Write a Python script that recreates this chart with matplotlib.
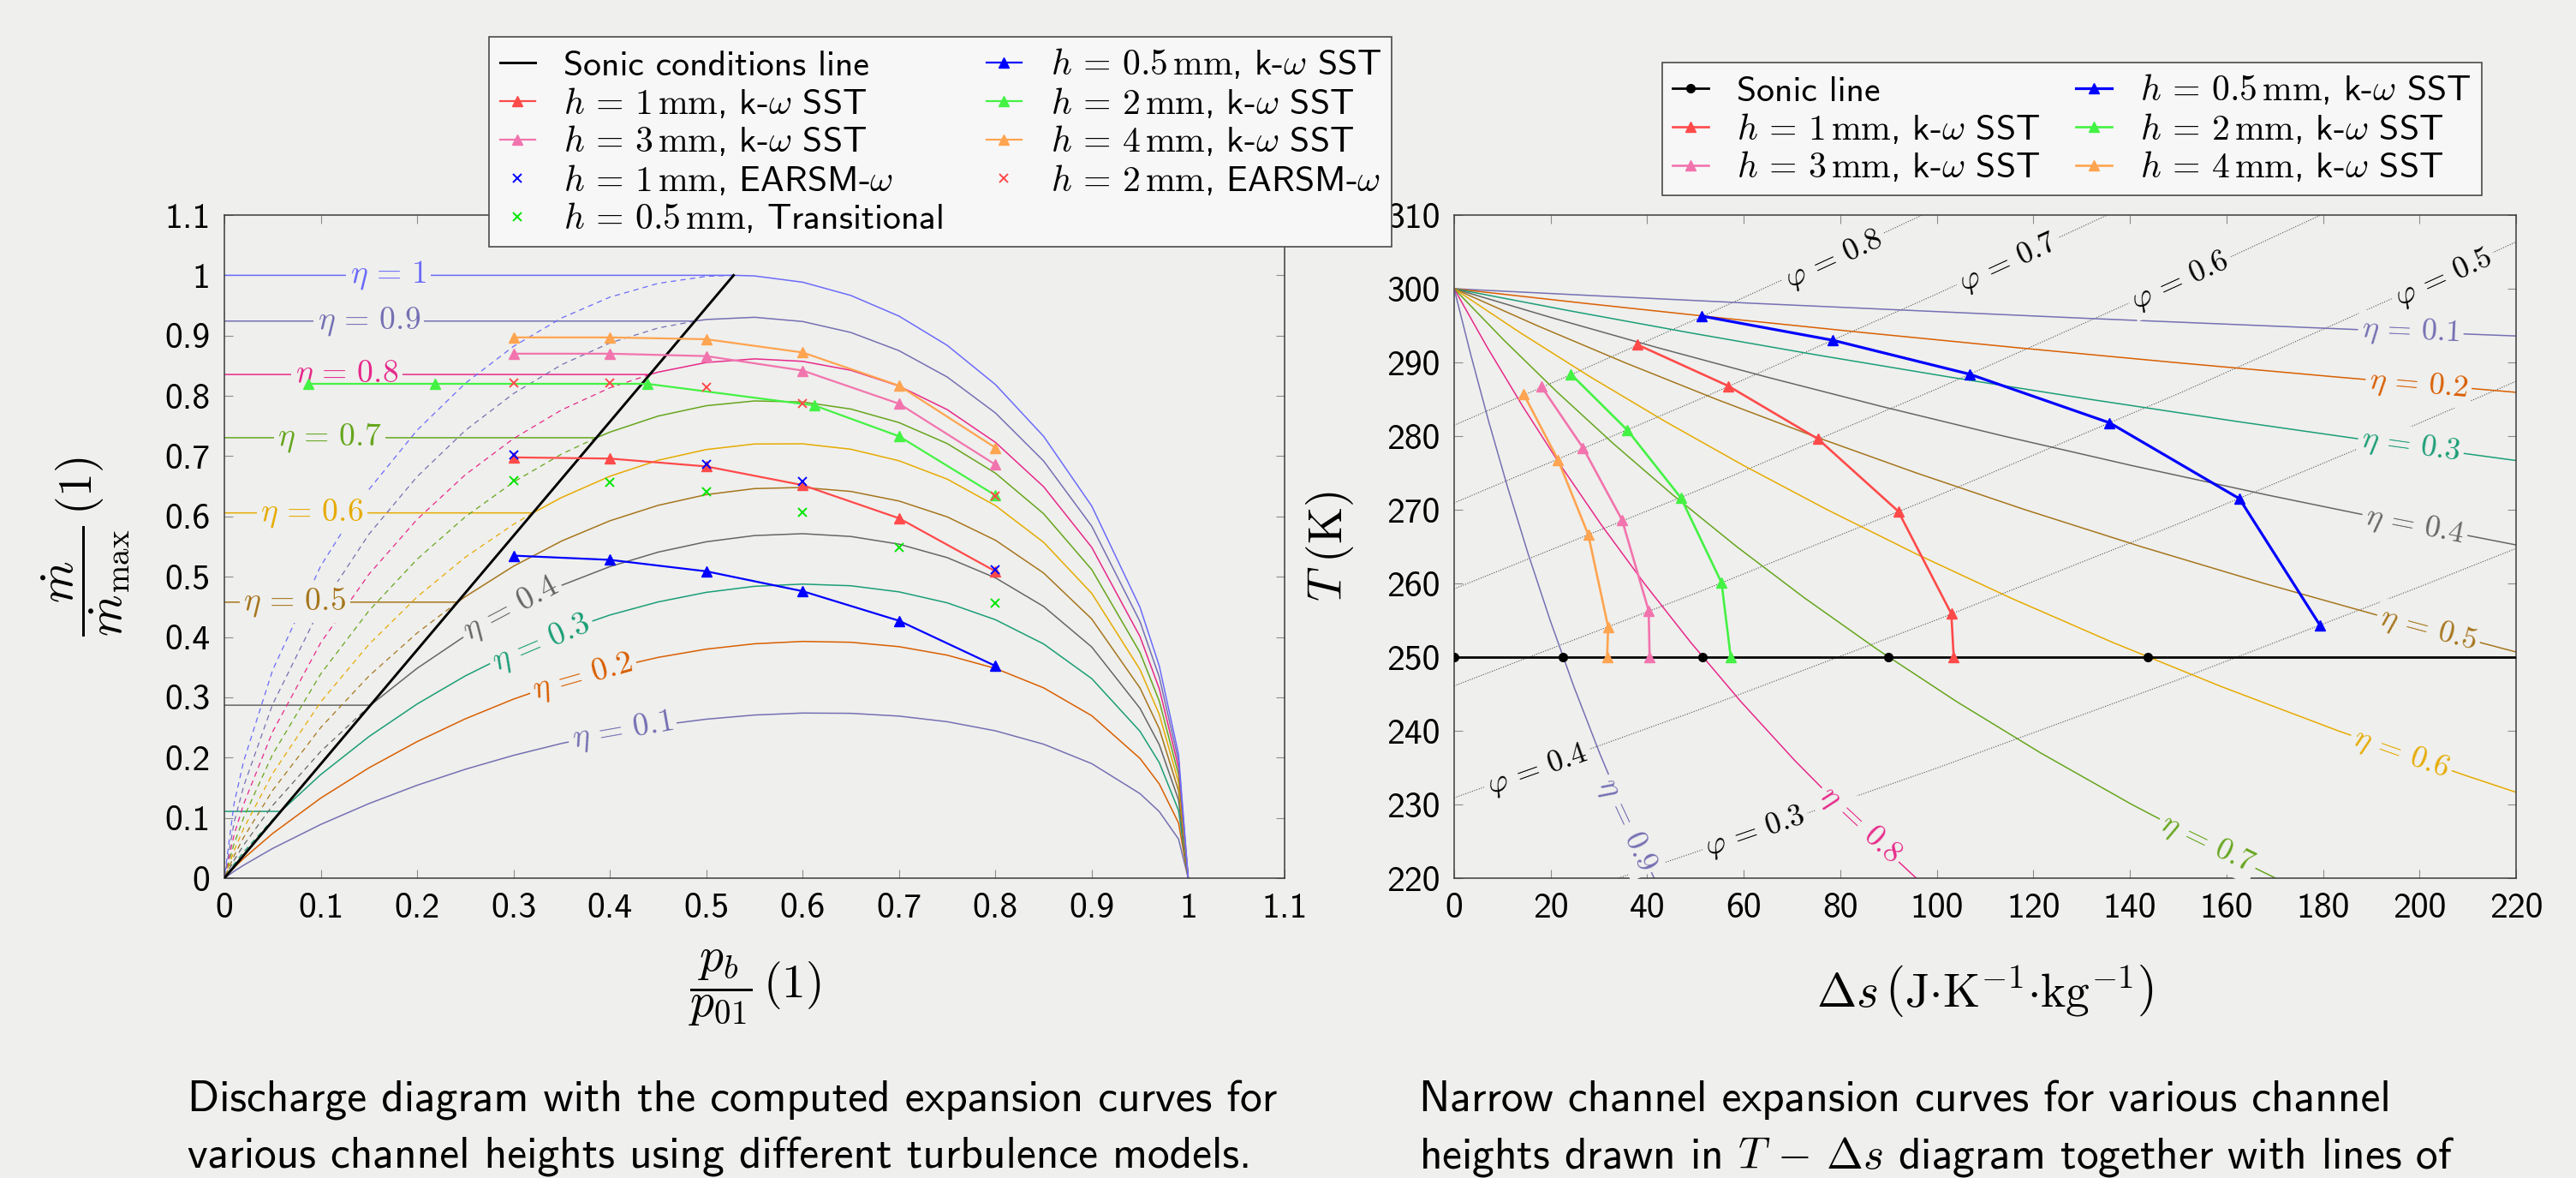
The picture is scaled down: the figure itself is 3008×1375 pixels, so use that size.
import matplotlib
matplotlib.use("Agg")
import matplotlib.pyplot as plt

plt.rcParams["font.family"] = ["cmss10", "DejaVu Sans"]
plt.rcParams["mathtext.fontset"] = "cm"
plt.rcParams["axes.unicode_minus"] = False

BG = "#efefed"

# ------------------------------------------------------------------ left chart data
pb_grid = [1.0, 0.99, 0.97, 0.95, 0.9, 0.85, 0.8, 0.75, 0.7, 0.65, 0.6, 0.55, 0.5,
           0.45, 0.4, 0.35, 0.3, 0.25, 0.2, 0.15, 0.1, 0.05, 0.02, 0.01, 0.0]
m_eta01 = [0, 0.0648, 0.1104, 0.1402, 0.1899, 0.2222, 0.2444, 0.2595, 0.2688, 0.2734, 0.2739, 0.2706, 0.2637,
           0.2535, 0.2401, 0.2235, 0.2037, 0.1806, 0.1541, 0.1237, 0.0891, 0.0492, 0.0215, 0.0113, 0]
m_eta02 = [0, 0.0916, 0.1563, 0.1986, 0.2694, 0.3157, 0.3479, 0.3699, 0.3840, 0.3913, 0.3927, 0.3888, 0.3799,
           0.3662, 0.3478, 0.3247, 0.2970, 0.2643, 0.2265, 0.1830, 0.1328, 0.0740, 0.0328, 0.0173, 0]
m_eta03 = [0, 0.1123, 0.1916, 0.2436, 0.3309, 0.3885, 0.4287, 0.4567, 0.4749, 0.4850, 0.4878, 0.4841, 0.4741,
           0.4582, 0.4365, 0.4089, 0.3753, 0.3355, 0.2889, 0.2348, 0.1718, 0.0970, 0.0435, 0.0232, 0]
m_eta04 = [0, 0.1297, 0.2214, 0.2817, 0.3833, 0.4507, 0.4982, 0.5317, 0.5540, 0.5668, 0.5714, 0.5683, 0.5580,
           0.5408, 0.5168, 0.4858, 0.4477, 0.4020, 0.3481, 0.2848, 0.2102, 0.1204, 0.0549, 0.0296, 0]
m_eta05 = [0, 0.1450, 0.2478, 0.3154, 0.4298, 0.5062, 0.5606, 0.5993, 0.6256, 0.6415, 0.6481, 0.6462, 0.6362,
           0.6184, 0.5928, 0.5593, 0.5175, 0.4670, 0.4067, 0.3353, 0.2499, 0.1454, 0.0676, 0.0369, 0]
m_eta06 = [0, 0.1589, 0.2717, 0.3460, 0.4723, 0.5571, 0.6180, 0.6619, 0.6924, 0.7115, 0.7205, 0.7202, 0.7110,
           0.6932, 0.6667, 0.6315, 0.5869, 0.5324, 0.4666, 0.3878, 0.2924, 0.1733, 0.0824, 0.0456, 0]
m_eta07 = [0, 0.1717, 0.2937, 0.3743, 0.5117, 0.6045, 0.6718, 0.7209, 0.7557, 0.7782, 0.7899, 0.7916, 0.7837,
           0.7665, 0.7399, 0.7036, 0.6571, 0.5994, 0.5291, 0.4436, 0.3388, 0.2052, 0.1003, 0.0567, 0]
m_eta08 = [0, 0.1836, 0.3143, 0.4007, 0.5486, 0.6493, 0.7229, 0.7772, 0.8163, 0.8425, 0.8573, 0.8614, 0.8554,
           0.8394, 0.8134, 0.7768, 0.7292, 0.6692, 0.5952, 0.5041, 0.3906, 0.2427, 0.1228, 0.0713, 0]
m_eta09 = [0, 0.1948, 0.3336, 0.4256, 0.5837, 0.6920, 0.7717, 0.8313, 0.8750, 0.9052, 0.9234, 0.9304, 0.9267,
           0.9126, 0.8878, 0.8518, 0.8039, 0.7427, 0.6661, 0.5706, 0.4495, 0.2881, 0.1525, 0.0918, 0]
m_eta10 = [0, 0.2054, 0.3520, 0.4493, 0.6171, 0.7329, 0.8188, 0.8838, 0.9323, 0.9666, 0.9886, 0.9990, 0.9983,
           0.9866, 0.9638, 0.9293, 0.8822, 0.8209, 0.7431, 0.6447, 0.5180, 0.3448, 0.1939, 0.1232, 0]

eta_levels = [0.1, 0.2, 0.3, 0.4, 0.5, 0.6, 0.7, 0.8, 0.9, 1.0]
eta_names = ["0.1", "0.2", "0.3", "0.4", "0.5", "0.6", "0.7", "0.8", "0.9", "1"]
eta_choke_pb = [None, 0.0019, 0.0585, 0.1516, 0.2419, 0.3202, 0.3861, 0.4415, 0.4883, 0.5283]
eta_choke_m = [None, 0.0036, 0.1108, 0.2869, 0.4578, 0.6059, 0.7306, 0.8355, 0.9241, 1.0]

sonic_pb = [0.0, 0.5283]
sonic_m = [0.0, 1.0]

exp_pb = [0.3, 0.4, 0.5, 0.6, 0.7, 0.8]
sst_h05 = [0.535, 0.528, 0.509, 0.476, 0.427, 0.352]
sst_h1 = [0.698, 0.696, 0.683, 0.652, 0.597, 0.509]
sst_h3 = [0.870, 0.870, 0.866, 0.842, 0.787, 0.686]
sst_h4 = [0.897, 0.897, 0.894, 0.872, 0.817, 0.714]
sst_h2_pb = [0.0875, 0.2186, 0.439, 0.6125, 0.7, 0.8]
sst_h2 = [0.820, 0.820, 0.820, 0.784, 0.733, 0.635]
earsm_h1_pb = [0.3, 0.5, 0.6, 0.8]
earsm_h1 = [0.702, 0.687, 0.658, 0.511]
earsm_h2_pb = [0.3, 0.4, 0.5, 0.6, 0.8]
earsm_h2 = [0.822, 0.822, 0.815, 0.788, 0.634]
trans_h05 = [0.660, 0.656, 0.641, 0.607, 0.549, 0.456]

left_ticks = [0.0, 0.1, 0.2, 0.3, 0.4, 0.5, 0.6, 0.7, 0.8, 0.9, 1.0, 1.1]
left_ticklabels = ["0", "0.1", "0.2", "0.3", "0.4", "0.5", "0.6", "0.7", "0.8", "0.9", "1", "1.1"]

# ------------------------------------------------------------------ right chart data
ds_eta01 = [0, 30.70, 62.58, 130.26, 203.85, 223.29]
T_eta01 = [300, 299, 298, 296, 294, 293.5]
ds_eta02 = [0, 27.34, 55.82, 85.54, 116.59, 149.09, 183.14, 218.92, 220.75]
T_eta02 = [300, 298, 296, 294, 292, 290, 288, 286, 285.9]
ds_eta03 = [0, 23.96, 49.01, 75.24, 102.74, 131.62, 161.99, 194.00, 222.03]
T_eta03 = [300, 297, 294, 291, 288, 285, 282, 279, 276.5]
ds_eta04 = [0, 20.57, 42.15, 64.83, 88.69, 113.84, 140.39, 168.49, 198.25, 221.78]
T_eta04 = [300, 296, 292, 288, 284, 280, 276, 272, 268, 265]
ds_eta05 = [0, 17.17, 35.25, 54.31, 74.44, 95.74, 118.31, 142.29, 167.80, 195.03, 221.15]
T_eta05 = [300, 295, 290, 285, 280, 275, 270, 265, 260, 255, 250.5]
ds_eta06 = [0, 13.76, 28.30, 43.68, 59.99, 77.31, 95.74, 115.40, 136.41, 158.94, 183.14, 209.25, 220.72]
T_eta06 = [300, 294, 288, 282, 276, 270, 264, 258, 252, 246, 240, 234, 231.5]
ds_eta07 = [0, 10.34, 21.30, 32.94, 45.32, 58.53, 72.65, 87.77, 104.01, 121.50, 140.39, 160.87, 170.18]
T_eta07 = [300, 293, 286, 279, 272, 265, 258, 251, 244, 237, 230, 223, 220]
ds_eta08 = [0, 6.90, 14.25, 22.08, 30.44, 39.40, 49.01, 59.35, 70.52, 82.61, 95.74]
T_eta08 = [300, 292, 284, 276, 268, 260, 252, 244, 236, 228, 220]
ds_eta09 = [0, 3.46, 7.15, 11.10, 15.34, 19.89, 24.80, 30.12, 35.88, 41.43]
T_eta09 = [300, 291, 282, 273, 264, 255, 246, 237, 228, 220]

ds_phi08 = [0, 25, 50, 75, 96.98]
T_phi08 = [281.47, 288.56, 295.83, 303.29, 310.0]
ds_phi07 = [0, 50, 100, 135.32]
T_phi07 = [270.93, 284.76, 299.29, 310.0]
ds_phi06 = [0, 50, 100, 150, 179.55]
T_phi06 = [259.26, 272.49, 286.40, 301.02, 310.0]
ds_phi05 = [0, 50, 100, 150, 200, 220]
T_phi05 = [246.10, 258.66, 271.86, 285.74, 300.32, 306.36]
ds_phi04 = [0, 50, 100, 150, 200, 220]
T_phi04 = [230.90, 242.68, 255.07, 268.09, 281.77, 287.43]
ds_phi03 = [33.99, 50, 100, 150, 200, 220]
T_phi03 = [220.0, 223.53, 234.94, 246.93, 259.54, 264.75]
phi_names = ["0.8", "0.7", "0.6", "0.5", "0.4", "0.3"]

sonic_ds = [0, 22.57, 51.52, 90.01, 143.75, 220]
sonic_T = [250, 250, 250, 250, 250, 250]

h05_ds = [51.2, 78.5, 106.8, 135.8, 162.7, 179.4]
h05_T = [296.3, 293.0, 288.4, 281.8, 271.5, 254.3]
h1_ds = [38.0, 56.8, 75.4, 92.0, 103.0, 103.5]
h1_T = [292.4, 286.8, 279.6, 269.8, 255.9, 250.0]
h2_ds = [24.2, 35.9, 47.0, 55.4, 57.3]
h2_T = [288.4, 280.8, 271.6, 260.1, 250.0]
h3_ds = [18.1, 26.7, 34.8, 40.3, 40.5]
h3_T = [286.7, 278.4, 268.6, 256.3, 250.0]
h4_ds = [14.4, 21.5, 27.8, 31.9, 31.7]
h4_T = [285.7, 276.8, 266.6, 254.1, 250.0]

right_xticks = [0, 20, 40, 60, 80, 100, 120, 140, 160, 180, 200, 220]
right_yticks = [220, 230, 240, 250, 260, 270, 280, 290, 300, 310]

# ------------------------------------------------------------------ styles
eta_colors = ["#7570b3", "#d95f02", "#1b9e77", "#666666", "#a6761d",
              "#e6ab02", "#66a61e", "#e7298a", "#7570b3", "#6b6bfa"]
C_H05 = "#0000ff"
C_H1 = "#ff4a4a"
C_H2 = "#44f244"
C_H3 = "#f274ae"
C_H4 = "#ffa450"
C_TR = "#00e600"

EQ = r"\,=\,"


def hlabel(h, model):
    return r"$h" + EQ + r"\mathsf{" + h + r"}\,\mathrm{mm}$, " + model


fig = plt.figure(figsize=(30.08, 13.75), dpi=100, facecolor=BG)
W, H = 3008.0, 1375.0
axL = fig.add_axes([262 / W, 1 - 1025 / H, 1238 / W, 774 / H])
axR = fig.add_axes([1698 / W, 1 - 1025 / H, 1240 / W, 774 / H])

for ax in (axL, axR):
    ax.set_facecolor(BG)
    ax.tick_params(direction="in", top=True, right=True, length=7, width=0.8,
                   color="#8c8c8c", labelsize=30, pad=12)
    for s in ax.spines.values():
        s.set_color("#3c3c3c")
        s.set_linewidth(1.1)

label_box = dict(boxstyle="square,pad=0.12", fc=BG, ec="none")

# ------------------------------------------------------------------ left chart
m_lists = [m_eta01, m_eta02, m_eta03, m_eta04, m_eta05,
           m_eta06, m_eta07, m_eta08, m_eta09, m_eta10]
for k, eta in enumerate(eta_levels):
    m = m_lists[k]
    col = eta_colors[k]
    ps, ms = eta_choke_pb[k], eta_choke_m[k]
    if ps is None:
        axL.plot(pb_grid, m, color=col, lw=1.1, zorder=2)
        continue
    sx = [p for p in pb_grid if p > ps] + [ps, 0.0]
    sy = [v for p, v in zip(pb_grid, m) if p > ps] + [ms, ms]
    axL.plot(sx, sy, color=col, lw=1.1, zorder=2)
    if eta >= 0.3:
        dx = [ps] + [p for p in pb_grid if p < ps]
        dy = [ms] + [v for p, v in zip(pb_grid, m) if p < ps]
        axL.plot(dx, dy, color=col, lw=0.9, ls=(0, (5, 4)), zorder=2)

# eta labels (x, y, rotation)
left_label_pos = [(0.413, 0.244, 10), (0.372, 0.334, 16), (0.329, 0.390, 23), (0.2975, 0.447, 28),
                  (0.073, 0.458, 0), (0.091, 0.606, 0), (0.109, 0.730, 0), (0.127, 0.835, 0),
                  (0.150, 0.924, 0), (0.170, 1.0, 0)]
for k, (x, y, r) in enumerate(left_label_pos):
    axL.text(x, y, r"$\eta" + EQ + r"\mathsf{%s}$" % eta_names[k], color=eta_colors[k], fontsize=27,
             ha="center", va="center", rotation=r, rotation_mode="anchor",
             bbox=label_box, zorder=3)

h_sonic, = axL.plot(sonic_pb, sonic_m, color="black", lw=2.1, zorder=4,
                    label="Sonic conditions line")
h_l05, = axL.plot(exp_pb, sst_h05, color=C_H05, lw=1.6, marker="^", ms=8, zorder=5,
                  label=hlabel("0.5", r"k-$\omega$ SST"))
h_l1, = axL.plot(exp_pb, sst_h1, color=C_H1, lw=1.6, marker="^", ms=8, zorder=5,
                 label=hlabel("1", r"k-$\omega$ SST"))
h_l2, = axL.plot(sst_h2_pb, sst_h2, color=C_H2, lw=1.6, marker="^", ms=8, zorder=5,
                 label=hlabel("2", r"k-$\omega$ SST"))
h_l3, = axL.plot(exp_pb, sst_h3, color=C_H3, lw=1.6, marker="^", ms=8, zorder=5,
                 label=hlabel("3", r"k-$\omega$ SST"))
h_l4, = axL.plot(exp_pb, sst_h4, color=C_H4, lw=1.6, marker="^", ms=8, zorder=5,
                 label=hlabel("4", r"k-$\omega$ SST"))
h_e1, = axL.plot(earsm_h1_pb, earsm_h1, ls="none", color=C_H05, marker="x", ms=7, mew=1.4, zorder=6,
                 label=hlabel("1", r"EARSM-$\omega$"))
h_e2, = axL.plot(earsm_h2_pb, earsm_h2, ls="none", color=C_H1, marker="x", ms=7, mew=1.4, zorder=6,
                 label=hlabel("2", r"EARSM-$\omega$"))
h_tr, = axL.plot(exp_pb, trans_h05, ls="none", color=C_TR, marker="x", ms=7, mew=1.4, zorder=6,
                 label=hlabel("0.5", "Transitional"))

axL.set_xlim(0, 1.1)
axL.set_ylim(0, 1.1)
axL.set_xticks(left_ticks, left_ticklabels)
axL.set_yticks(left_ticks, left_ticklabels)
axL.set_xlabel(r"$\dfrac{p_b}{p_{01}}\,(1)$", fontsize=40)
axL.xaxis.set_label_coords(0.5, -0.105)
axL.set_ylabel(r"$\dfrac{\dot{m}}{\dot{m}_{\mathrm{max}}}\,(1)$", fontsize=40)
axL.yaxis.set_label_coords(-0.088, 0.5)

legL = fig.legend(handles=[h_sonic, h_l1, h_l3, h_e1, h_tr, h_l05, h_l2, h_l4, h_e2],
                  loc="upper left", bbox_to_anchor=(571 / W, 1 - 43 / H), ncol=2,
                  fontsize=30, frameon=True, fancybox=False, framealpha=1,
                  facecolor="#f7f7f7", edgecolor="#4a4a4a", borderaxespad=0,
                  handlelength=1.0, handletextpad=0.8, columnspacing=1.2,
                  labelspacing=0.12, borderpad=0.3)
legL.get_frame().set_linewidth(1.2)

# ------------------------------------------------------------------ right chart
eta_ds = [ds_eta01, ds_eta02, ds_eta03, ds_eta04, ds_eta05, ds_eta06, ds_eta07, ds_eta08, ds_eta09]
eta_T = [T_eta01, T_eta02, T_eta03, T_eta04, T_eta05, T_eta06, T_eta07, T_eta08, T_eta09]
for k in range(9):
    axR.plot(eta_ds[k], eta_T[k], color=eta_colors[k], lw=1.1, zorder=2)

phi_ds = [ds_phi08, ds_phi07, ds_phi06, ds_phi05, ds_phi04, ds_phi03]
phi_T = [T_phi08, T_phi07, T_phi06, T_phi05, T_phi04, T_phi03]
for k in range(6):
    axR.plot(phi_ds[k], phi_T[k], color="#555555", lw=0.8, ls=(0, (1, 1.5)), zorder=1)

right_eta_pos = [(198.2, 294.2, -2.6), (199.8, 286.9, -5), (198.2, 278.6, -8), (199.0, 267.8, -11),
                 (201.8, 253.7, -15), (196.2, 236.9, -19.5), (156.1, 224.7, -26), (84.1, 227.2, -43),
                 (35.7, 227.2, -65)]
for k, (x, y, r) in enumerate(right_eta_pos):
    axR.text(x, y, r"$\eta" + EQ + r"\mathsf{%s}$" % eta_names[k], color=eta_colors[k], fontsize=26,
             ha="center", va="center", rotation=r, rotation_mode="anchor",
             bbox=label_box, zorder=3)

right_phi_pos = [(78.7, 303.9, 24.7), (114.8, 303.5, 24.7), (150.5, 301.0, 24.5),
                 (205.0, 301.4, 24.5), (17.2, 234.7, 19.6), (62.4, 226.2, 19)]
for k, (x, y, r) in enumerate(right_phi_pos):
    axR.text(x, y, r"$\varphi" + EQ + r"\mathsf{%s}$" % phi_names[k], color="black", fontsize=26,
             ha="center", va="center", rotation=r, rotation_mode="anchor",
             bbox=label_box, zorder=3)

r_sonic, = axR.plot(sonic_ds, sonic_T, color="black", lw=2.0, marker="o", ms=7,
                    markevery=[0, 1, 2, 3, 4], zorder=4, label="Sonic line")
r_05, = axR.plot(h05_ds, h05_T, color=C_H05, lw=2.3, marker="^", ms=8, zorder=5,
                 label=hlabel("0.5", r"k-$\omega$ SST"))
r_1, = axR.plot(h1_ds, h1_T, color=C_H1, lw=1.9, marker="^", ms=8, zorder=5,
                label=hlabel("1", r"k-$\omega$ SST"))
r_2, = axR.plot(h2_ds, h2_T, color=C_H2, lw=1.9, marker="^", ms=8, zorder=5,
                label=hlabel("2", r"k-$\omega$ SST"))
r_3, = axR.plot(h3_ds, h3_T, color=C_H3, lw=1.9, marker="^", ms=8, zorder=5,
                label=hlabel("3", r"k-$\omega$ SST"))
r_4, = axR.plot(h4_ds, h4_T, color=C_H4, lw=1.9, marker="^", ms=8, zorder=5,
                label=hlabel("4", r"k-$\omega$ SST"))

axR.set_xlim(0, 220)
axR.set_ylim(220, 310)
axR.set_xticks(right_xticks, [str(v) for v in right_xticks])
axR.set_yticks(right_yticks, [str(v) for v in right_yticks])
axR.set_xlabel(r"$\Delta s\,\left(\mathrm{J{\cdot}K^{-1}{\cdot}kg^{-1}}\right)$", fontsize=40)
axR.xaxis.set_label_coords(0.5, -0.128)
axR.set_ylabel(r"$T\;(\mathrm{K})$", fontsize=40)
axR.yaxis.set_label_coords(-0.093, 0.5)

legR = fig.legend(handles=[r_sonic, r_1, r_3, r_05, r_2, r_4],
                  loc="upper right", bbox_to_anchor=(2898 / W, 1 - 73 / H), ncol=2,
                  fontsize=30, frameon=True, fancybox=False, framealpha=1,
                  facecolor="#f7f7f7", edgecolor="#4a4a4a", borderaxespad=0,
                  handlelength=1.0, handletextpad=0.8, columnspacing=1.0,
                  labelspacing=0.12, borderpad=0.3)
legR.get_frame().set_linewidth(1.2)

# ------------------------------------------------------------------ captions
fig.text(219 / W, 1 - 1297 / H, "Discharge diagram with the computed expansion curves for",
         fontsize=37, va="baseline", ha="left")
fig.text(219 / W, 1 - 1363 / H, "various channel heights using different turbulence models.",
         fontsize=37, va="baseline", ha="left")
fig.text(1657 / W, 1 - 1297 / H, "Narrow channel expansion curves for various channel",
         fontsize=37, va="baseline", ha="left")
fig.text(1657 / W, 1 - 1363 / H, r"heights drawn in $T\,-\,\Delta s$ diagram together with lines of",
         fontsize=37, va="baseline", ha="left")

fig.savefig("out.png", dpi=100, facecolor=BG)
